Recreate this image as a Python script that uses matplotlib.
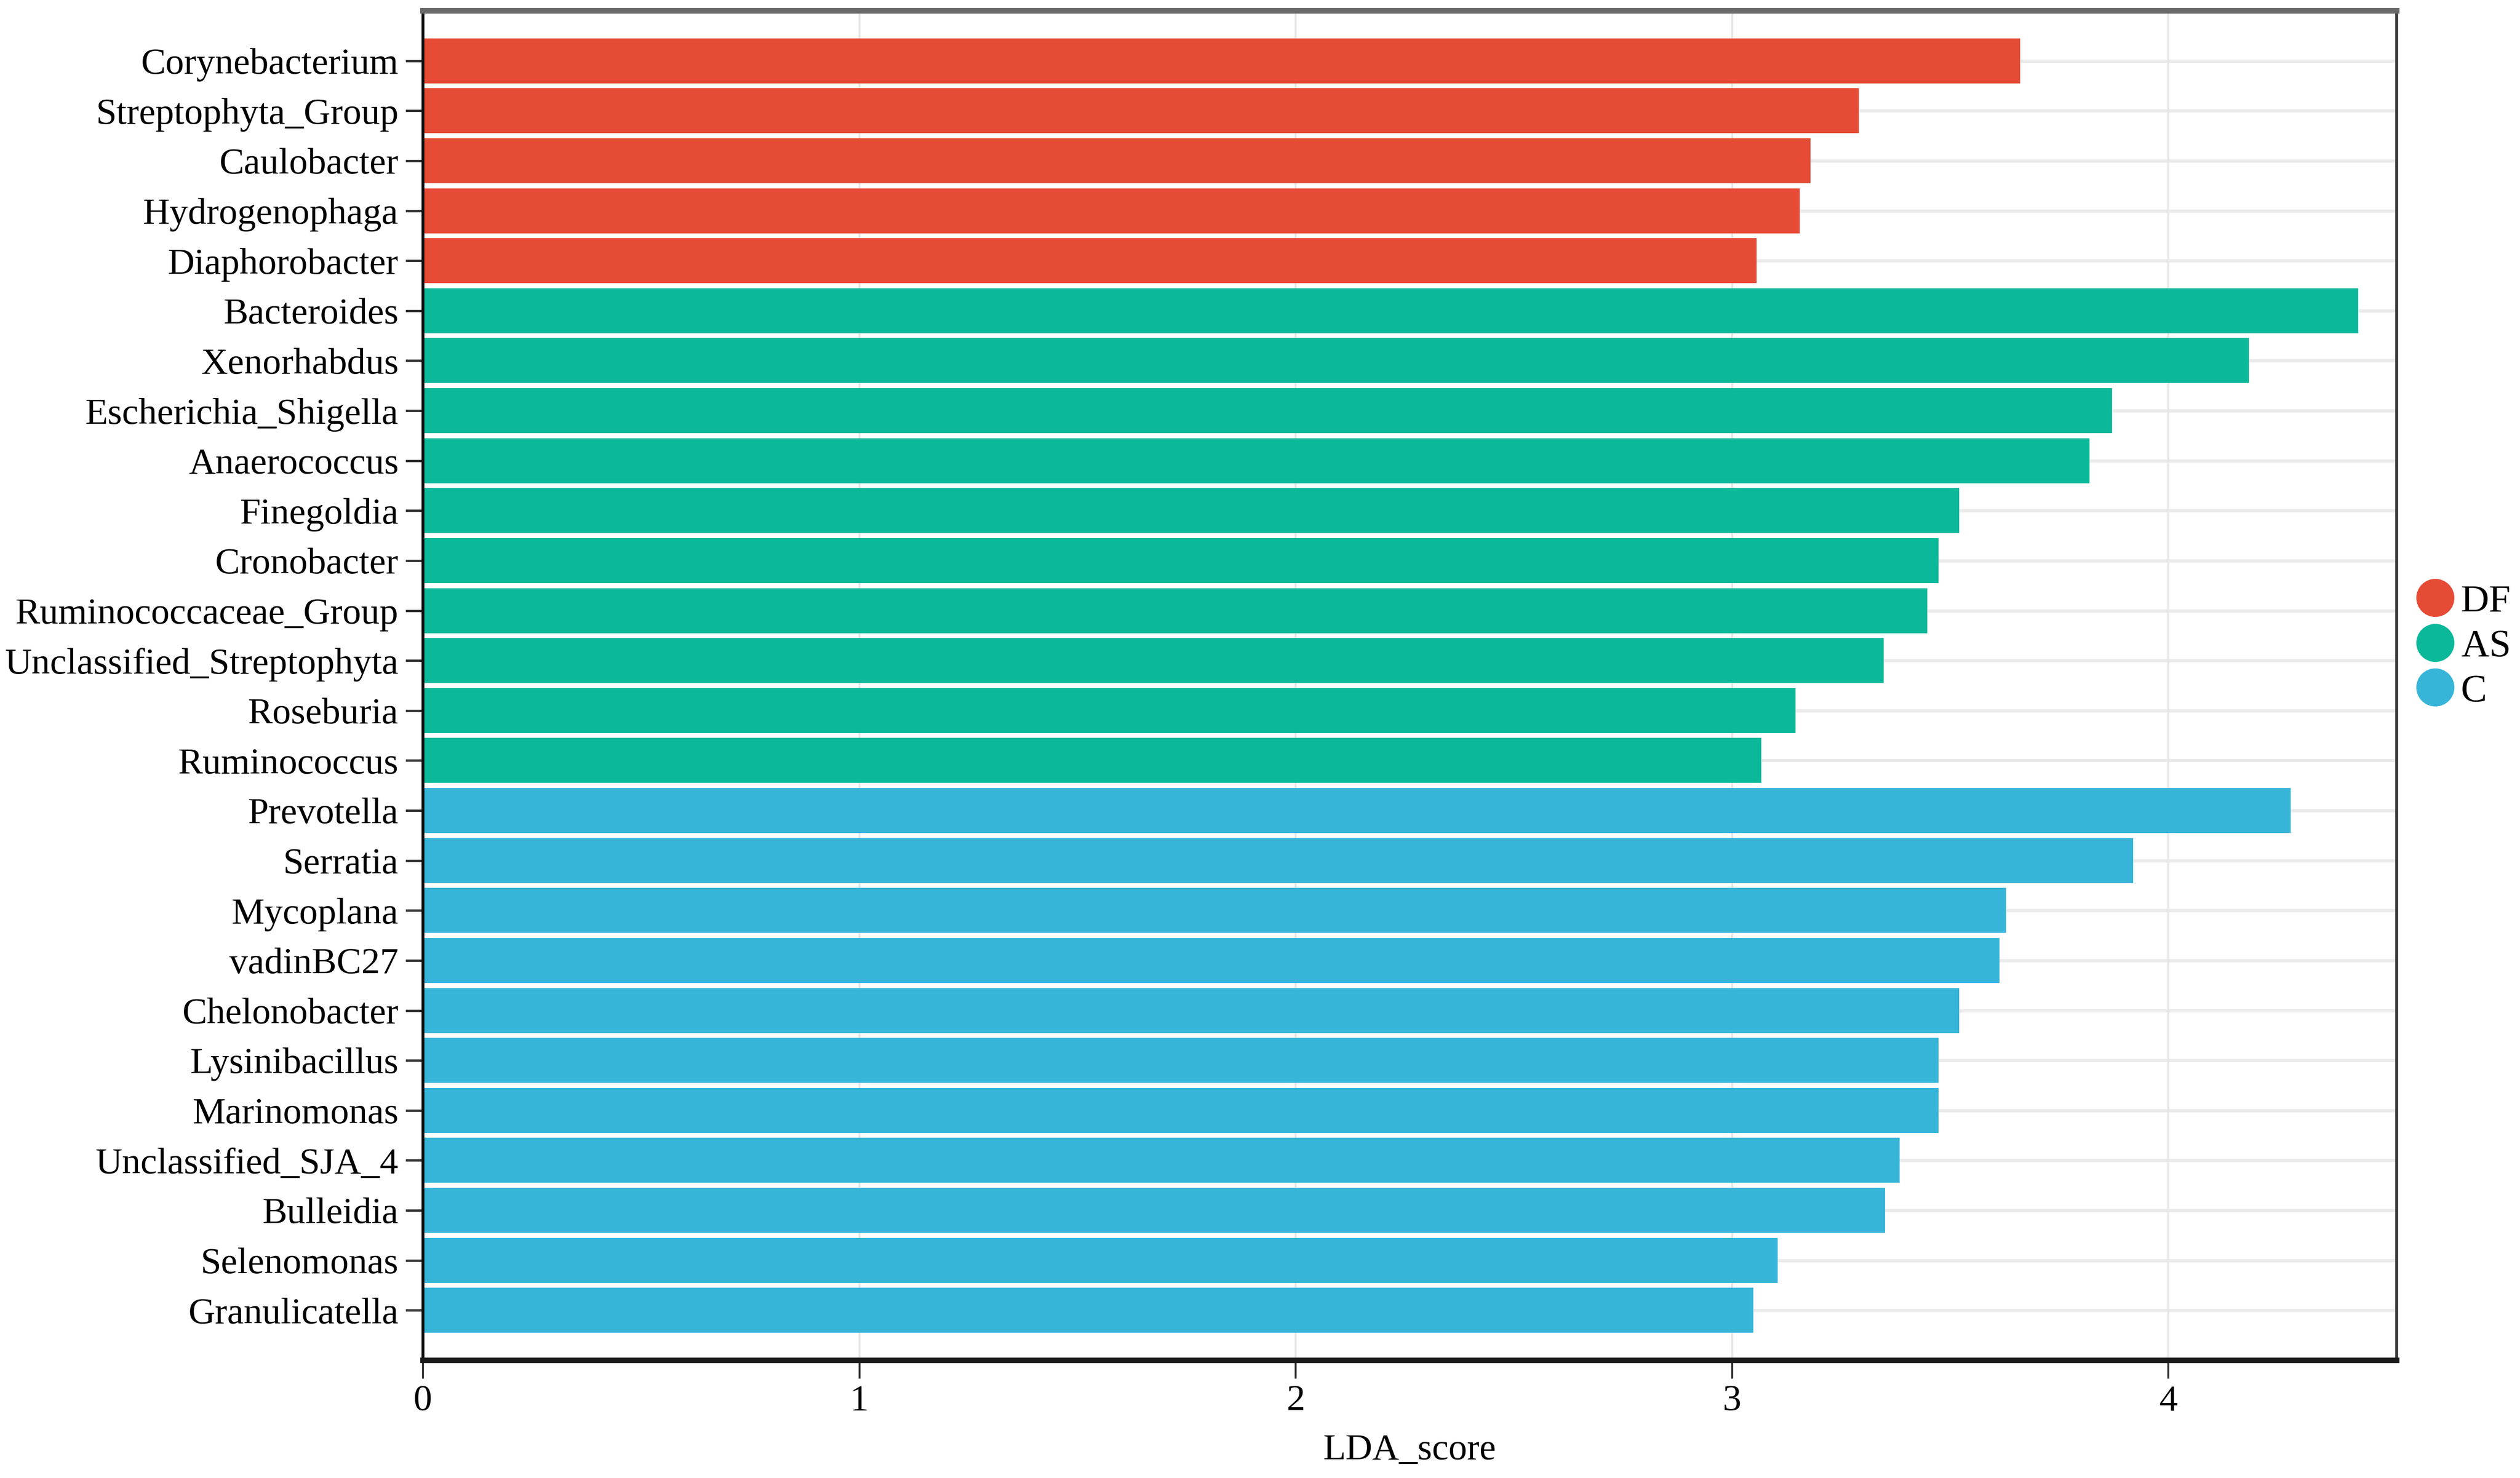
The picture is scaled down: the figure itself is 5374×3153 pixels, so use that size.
import matplotlib
matplotlib.use("Agg")
import matplotlib.pyplot as plt
from matplotlib.lines import Line2D
import numpy as np

plt.rcParams['font.family'] = ['Liberation Serif', 'DejaVu Serif']

groups = ["DF", "AS", "C"]
group_colors = ["#E64B35", "#0BB99A", "#37B5D9"]

df_taxa = ["Corynebacterium", "Streptophyta_Group", "Caulobacter", "Hydrogenophaga", "Diaphorobacter"]
df_scores = [3.66, 3.29, 3.18, 3.155, 3.056]

as_taxa = ["Bacteroides", "Xenorhabdus", "Escherichia_Shigella", "Anaerococcus", "Finegoldia",
           "Cronobacter", "Ruminococcaceae_Group", "Unclassified_Streptophyta", "Roseburia", "Ruminococcus"]
as_scores = [4.435, 4.184, 3.871, 3.819, 3.52, 3.473, 3.447, 3.347, 3.145, 3.067]

c_taxa = ["Prevotella", "Serratia", "Mycoplana", "vadinBC27", "Chelonobacter", "Lysinibacillus",
          "Marinomonas", "Unclassified_SJA_4", "Bulleidia", "Selenomonas", "Granulicatella"]
c_scores = [4.28, 3.919, 3.628, 3.613, 3.52, 3.473, 3.473, 3.384, 3.351, 3.104, 3.049]

x_ticks = [0, 1, 2, 3, 4]
x_max = 4.523

taxa = df_taxa + as_taxa + c_taxa
scores = df_scores + as_scores + c_scores
colors = ([group_colors[0]] * len(df_taxa) + [group_colors[1]] * len(as_taxa)
          + [group_colors[2]] * len(c_taxa))

W, H = 5374, 3153
dpi = 300
fig = plt.figure(figsize=(W / dpi, H / dpi), dpi=dpi)
ax = fig.add_axes([902 / W, 1 - 2902 / H, (5111 - 902) / W, (2902 - 23) / H])

ypos = np.arange(len(taxa))
ax.barh(ypos, scores, height=0.9, color=colors, zorder=3)

ax.set_ylim(len(taxa), -1)
ax.set_xlim(0, x_max)
ax.set_yticks(ypos)
ax.set_yticklabels(taxa, fontsize=19)
ax.set_xticks(x_ticks)
ax.set_xticklabels([str(t) for t in x_ticks], fontsize=19)
ax.set_xlabel("LDA_score", fontsize=19, labelpad=8)

# grid
for y in ypos:
    ax.axhline(y, color="#ebebeb", lw=1.7, zorder=1)
for x in x_ticks[1:]:
    ax.axvline(x, color="#e6e6e6", lw=1.0, zorder=1)

ax.tick_params(axis="y", length=9, width=1.2, color="#333333", pad=3.5)
ax.tick_params(axis="x", length=9.4, width=1.0, color="#333333", pad=3)

ax.spines["top"].set_color("#6a6a6a")
ax.spines["top"].set_linewidth(2.9)
ax.spines["left"].set_color("#111111")
ax.spines["left"].set_linewidth(1.5)
ax.spines["bottom"].set_color("#1a1a1a")
ax.spines["bottom"].set_linewidth(2.8)
ax.spines["right"].set_color("#3a3a3a")
ax.spines["right"].set_linewidth(1.5)
for s in ax.spines.values():
    s.set_zorder(5)

handles = [Line2D([0], [0], marker="o", linestyle="none", markersize=18.5,
                  markerfacecolor=c, markeredgecolor=c) for c in group_colors]
fig.legend(handles, groups, loc="center left", bbox_to_anchor=(5151 / W, 1 - 1380 / H),
           frameon=False, fontsize=20, handlelength=1.0, handletextpad=0.16,
           labelspacing=0.23, borderpad=0, borderaxespad=0)

fig.savefig("out.png", dpi=dpi)
